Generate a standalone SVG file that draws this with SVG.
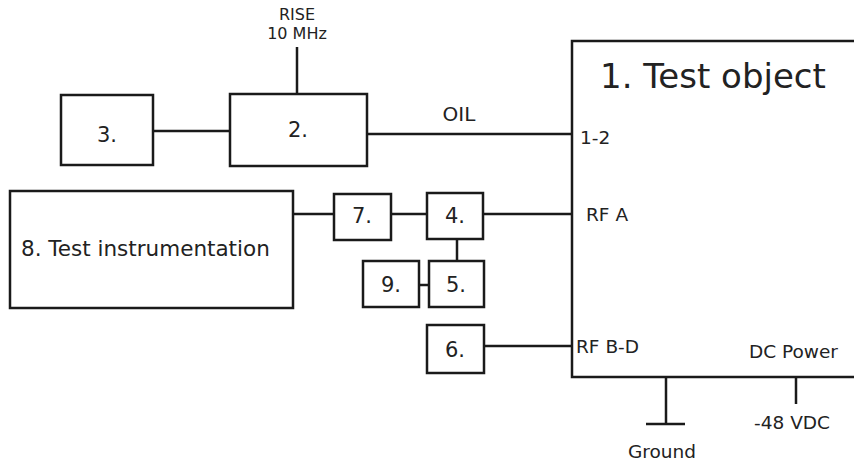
<svg xmlns="http://www.w3.org/2000/svg" width="854" height="461" viewBox="0 0 854 461">
<style>
.box{fill:#fff;stroke:#1a1a1a;stroke-width:2.5}
.ln{stroke:#1a1a1a;stroke-width:2.5;fill:none}
text{font-family:"DejaVu Sans","Liberation Sans",sans-serif;fill:#222}
.lbl{font-size:21px;text-anchor:middle;dominant-baseline:central}
.sm{font-size:18.5px;dominant-baseline:central}
</style>
<rect width="854" height="461" fill="#fff"/>
<g id="connectors">
<line class="ln" x1="153" y1="131" x2="230" y2="131"/>
<line class="ln" x1="297" y1="47" x2="297" y2="94"/>
<line class="ln" x1="367" y1="134" x2="572" y2="134"/>
<line class="ln" x1="293" y1="214" x2="334" y2="214"/>
<line class="ln" x1="391" y1="214" x2="427" y2="214"/>
<line class="ln" x1="483" y1="214" x2="572" y2="214"/>
<line class="ln" x1="457" y1="239" x2="457" y2="261"/>
<line class="ln" x1="419" y1="285" x2="429" y2="285"/>
<line class="ln" x1="484" y1="346" x2="572" y2="346"/>
<line class="ln" x1="666" y1="377" x2="666" y2="424"/>
<line class="ln" x1="646" y1="424" x2="685" y2="424"/>
<line class="ln" x1="796" y1="377" x2="796" y2="404"/>
</g>
<g id="n1"><rect class="box" x="572" y="41" width="290" height="336"/>
<text x="713" y="76" font-size="34" text-anchor="middle" dominant-baseline="central">1. Test object</text>
<text class="sm" x="580" y="137">1-2</text>
<text class="sm" x="586" y="214">RF A</text>
<text class="sm" x="576" y="346">RF B-D</text>
<text class="sm" x="749" y="351">DC Power</text></g>
<g id="n2"><rect class="box" x="230" y="94" width="137" height="72"/><text class="lbl" x="298" y="130">2.</text></g>
<g id="n3"><rect class="box" x="61" y="95" width="92" height="70"/><text class="lbl" x="107" y="135">3.</text></g>
<g id="n4"><rect class="box" x="427" y="193" width="56" height="46"/><text class="lbl" x="455" y="216">4.</text></g>
<g id="n5"><rect class="box" x="429" y="261" width="55" height="46"/><text class="lbl" x="456" y="285">5.</text></g>
<g id="n6"><rect class="box" x="427" y="325" width="57" height="48"/><text class="lbl" x="455" y="350">6.</text></g>
<g id="n7"><rect class="box" x="334" y="194" width="57" height="46"/><text class="lbl" x="362" y="216">7.</text></g>
<g id="n8"><rect class="box" x="10" y="191" width="283" height="117"/><text x="21" y="248" font-size="21.5" dominant-baseline="central">8. Test instrumentation</text></g>
<g id="n9"><rect class="box" x="363" y="261" width="56" height="46"/><text class="lbl" x="391" y="285">9.</text></g>
<g id="labels">
<text x="297" y="14" font-size="16" text-anchor="middle" dominant-baseline="central">RISE</text>
<text x="297" y="33" font-size="16" text-anchor="middle" dominant-baseline="central">10 MHz</text>
<text x="459" y="114" font-size="20" text-anchor="middle" dominant-baseline="central">OIL</text>
<text class="sm" x="662" y="451" text-anchor="middle">Ground</text>
<text class="sm" x="792" y="422" text-anchor="middle">-48 VDC</text>
</g>
</svg>
